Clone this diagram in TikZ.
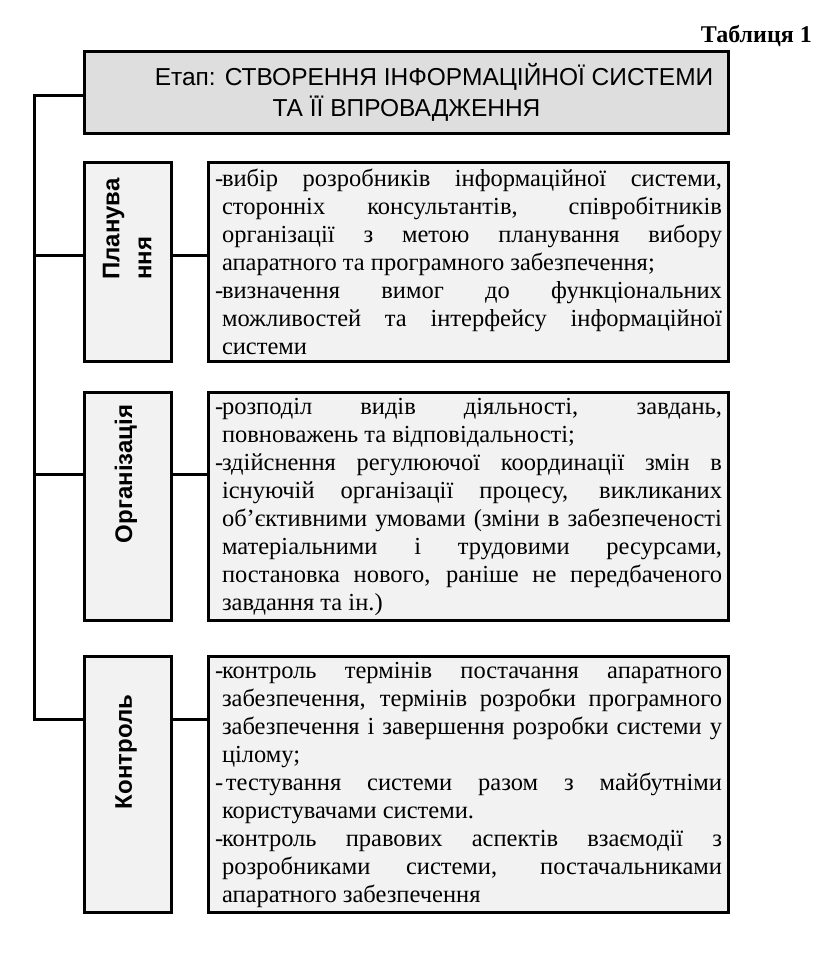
\documentclass[tikz,border=0pt]{standalone}
\usepackage{fontspec}
\setmainfont{Liberation Serif}
\newfontfamily\headsans{Liberation Sans}
\definecolor{headgray}{gray}{0.87}
\definecolor{boxgray}{gray}{0.95}
\newcommand{\dashitem}{\noindent\hangindent=7pt\hangafter=1\relax\makebox[7pt][l]{-}}
\tolerance=10000
\hbadness=10000

\begin{document}
\begin{tikzpicture}[x=1pt,y=-1pt,
  box/.style={draw, line width=3pt, rectangle, anchor=north west, inner sep=0pt},
  stagebox/.style={box, fill=boxgray, minimum width=87pt},
  notebox/.style={box, fill=boxgray, minimum width=520pt,
    font=\fontsize{24.5}{28}\selectfont},
  stagelabel/.style={rotate=90, inner sep=0pt, align=left,
    font=\headsans\bfseries\fontsize{24}{32}\selectfont},
  link/.style={line width=3pt}]
\useasboundingbox (0,0) rectangle (816,974);

\node[anchor=base east, inner sep=0pt, font=\bfseries\fontsize{24}{28}\selectfont] (cap) at (812,43) {Таблиця 1};

\node[box, fill=headgray, minimum width=644pt, minimum height=82pt, align=center,
  font=\headsans\fontsize{24.5}{31}\selectfont] (h) at (83,50)
  {\hspace*{55pt}Етап: СТВОРЕННЯ ІНФОРМАЦІЙНОЇ СИСТЕМИ\\ТА ЇЇ ВПРОВАДЖЕННЯ};

% stages
\node[stagebox, minimum height=199pt] (p) at (83,161) {};
\node[stagebox, minimum height=228pt] (o) at (83,391) {};
\node[stagebox, minimum height=256pt] (k) at (83,655) {};
\node[stagelabel, anchor=west] (pl) at (127,280) {Планува\\ння};
\node[stagelabel] (ol) at (126,474) {Організація};
\node[stagelabel] (kl) at (126,752) {Контроль};

% notes
\node[notebox, minimum height=199pt] (pn) at (207,161) {\parbox{507pt}{%
  \dashitem вибір розробників інформаційної системи,\linebreak
  сторонніх консультантів, співробітників\linebreak
  організації з метою планування вибору\linebreak
  апаратного та програмного забезпечення;\par
  \dashitem визначення вимог до функціональних\linebreak
  можливостей та інтерфейсу інформаційної\linebreak
  системи}};
\node[notebox, minimum height=228pt] (on) at (207,391) {\parbox{507pt}{%
  \dashitem розподіл видів діяльності, завдань,\linebreak
  повноважень та відповідальності;\par
  \dashitem здійснення регулюючої координації змін в\linebreak
  існуючій організації процесу, викликаних\linebreak
  об’єктивними умовами (зміни в забезпеченості\linebreak
  матеріальними і трудовими ресурсами,\linebreak
  постановка нового, раніше не передбаченого\linebreak
  завдання та ін.)}};
\node[notebox, minimum height=256pt] (kn) at (207,655) {\parbox{507pt}{%
  \dashitem контроль термінів постачання апаратного\linebreak
  забезпечення, термінів розробки програмного\linebreak
  забезпечення і завершення розробки системи у\linebreak
  цілому;\par
  \dashitem\hspace{4pt}тестування системи разом з майбутніми\linebreak
  користувачами системи.\par
  \dashitem контроль правових аспектів взаємодії з\linebreak
  розробниками системи, постачальниками\linebreak
  апаратного забезпечення}};

% connectors
\coordinate (top) at (34,95);
\coordinate (jp) at (34,255);
\coordinate (jo) at (34,474);
\coordinate (jk) at (34,719);
\draw[link] (top -| h.west) -- (top) -- (jk) -- (jk -| k.west);
\draw[link] (jp) -- (jp -| p.west);
\draw[link] (jo) -- (jo -| o.west);
\draw[link] (jp -| p.east) -- (jp -| pn.west);
\draw[link] (jo -| o.east) -- (jo -| on.west);
\draw[link] (jk -| k.east) -- (jk -| kn.west);
\end{tikzpicture}
\end{document}
